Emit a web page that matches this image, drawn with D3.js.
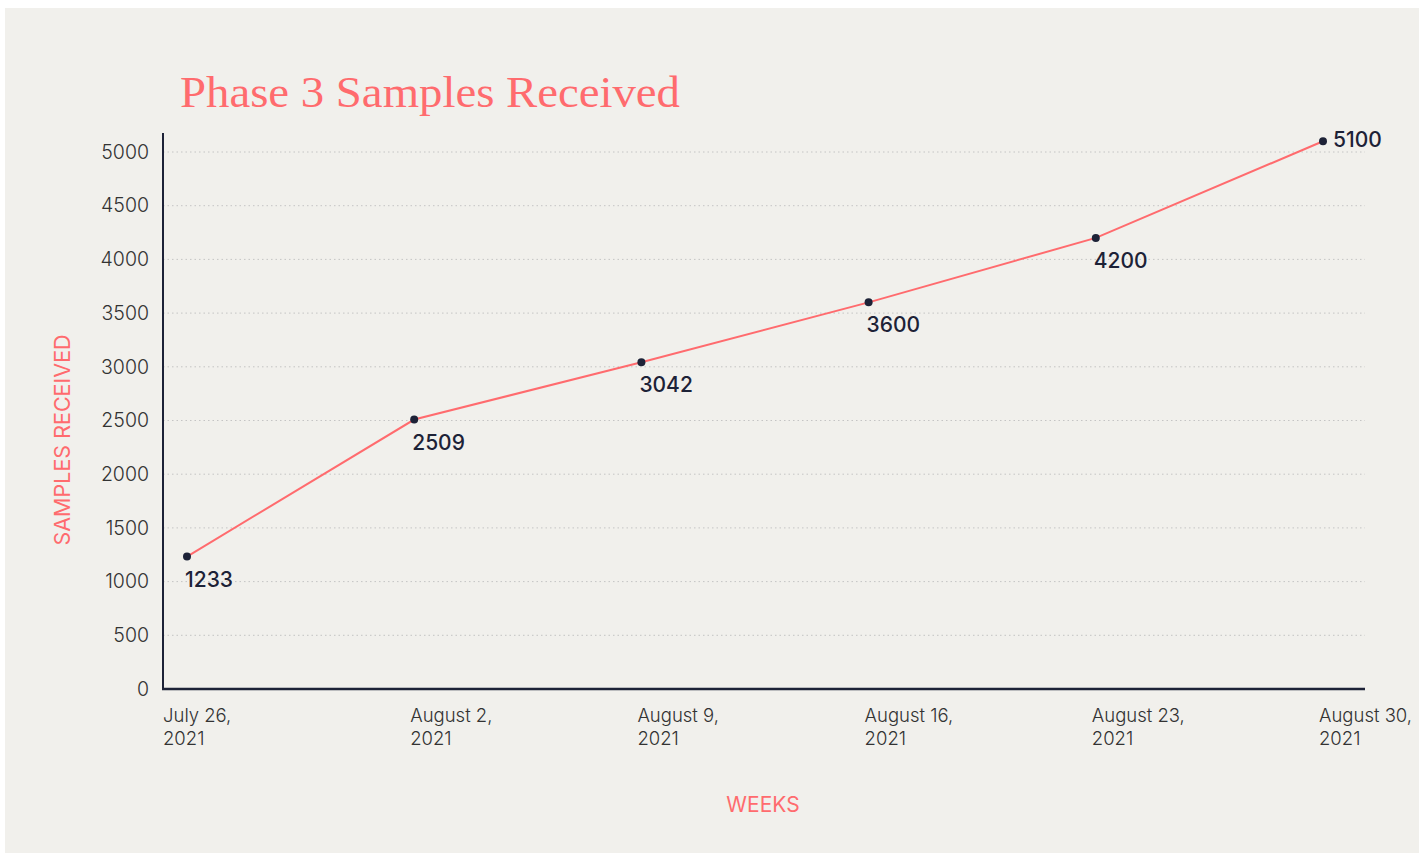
<!DOCTYPE html>
<html>
<head>
<meta charset="utf-8">
<script src="https://cdn.jsdelivr.net/npm/d3@7"></script>
<style>
  html, body { margin: 0; padding: 0; background: #ffffff; }
  svg { display: block; }
</style>
</head>
<body>
<div id="chart"></div>
<script>
const WIDTH = 1424;
const HEIGHT = 855;

// data
const weeks = ["2021-07-26", "2021-08-02", "2021-08-09", "2021-08-16", "2021-08-23", "2021-08-30"];
const samples = [1233, 2509, 3042, 3600, 4200, 5100];
const yTicks = [0, 500, 1000, 1500, 2000, 2500, 3000, 3500, 4000, 4500, 5000];

const parse = d3.timeParse("%Y-%m-%d");
const data = weeks.map((w, i) => ({ date: parse(w), value: samples[i] }));

const CORAL = "#ff6b6e";
const NAVY = "#1d2237";

const svg = d3.select("#chart").append("svg")
  .attr("width", WIDTH)
  .attr("height", HEIGHT);

// panel background
svg.append("rect")
  .attr("x", 5).attr("y", 8)
  .attr("width", 1414).attr("height", 845)
  .attr("fill", "#f1f0ec");

const axisLeft = 163, axisRight = 1365, axisBottom = 689, axisTop = 133;

const x = d3.scaleTime()
  .domain(d3.extent(data, d => d.date))
  .range([187, 1323]);

const y = d3.scaleLinear()
  .domain([0, 5000])
  .range([axisBottom, 152]);

// title
svg.append("text")
  .attr("x", 180).attr("y", 107)
  .attr("fill", CORAL)
  .style("font-family", "'Liberation Serif', serif")
  .style("font-size", "45px")
  .attr("textLength", 500)
  .attr("lengthAdjust", "spacingAndGlyphs")
  .text("Phase 3 Samples Received");

// grid lines
svg.append("g")
  .selectAll("line")
  .data(yTicks.filter(d => d > 0))
  .join("line")
  .attr("x1", axisLeft).attr("x2", axisRight)
  .attr("y1", d => y(d)).attr("y2", d => y(d))
  .attr("stroke", "#c4c4c4")
  .attr("stroke-width", 1)
  .attr("stroke-dasharray", "1.5,3");

// y axis
const yAxis = svg.append("g")
  .attr("transform", `translate(${axisLeft},0)`)
  .call(d3.axisLeft(y).tickValues(yTicks).tickFormat(d3.format("d")).tickSize(0).tickPadding(14));
yAxis.select(".domain").remove();
yAxis.selectAll("text")
  .attr("fill", "#333333")
  .style("font-family", "Inter, sans-serif")
  .style("font-size", "19.5px")
  .style("font-weight", 300);

svg.append("line")
  .attr("x1", axisLeft).attr("x2", axisLeft)
  .attr("y1", axisTop).attr("y2", axisBottom + 1)
  .attr("stroke", NAVY).attr("stroke-width", 2);

svg.append("line")
  .attr("x1", axisLeft - 1).attr("x2", axisRight)
  .attr("y1", axisBottom).attr("y2", axisBottom)
  .attr("stroke", NAVY).attr("stroke-width", 2.5);

// x tick labels (two lines)
const fmtDay = d3.timeFormat("%B %-d,");
const fmtYear = d3.timeFormat("%Y");
const xt = svg.append("g")
  .selectAll("text")
  .data(data)
  .join("text")
  .attr("x", (d, i) => i === 0 ? axisLeft : x(d.date) - 4)
  .attr("y", 722)
  .attr("fill", "#333333")
  .style("font-family", "Inter, sans-serif")
  .style("font-size", "18.5px")
  .style("font-weight", 300);
xt.append("tspan").text(d => fmtDay(d.date));
xt.append("tspan")
  .attr("x", (d, i) => i === 0 ? axisLeft : x(d.date) - 4)
  .attr("dy", 23)
  .text(d => fmtYear(d.date));

// axis titles
svg.append("text")
  .attr("transform", "translate(70,440) rotate(-90)")
  .attr("text-anchor", "middle")
  .attr("fill", CORAL)
  .style("font-family", "Inter, sans-serif")
  .style("font-size", "21.5px")
  .text("SAMPLES RECEIVED");

svg.append("text")
  .attr("x", 763).attr("y", 812)
  .attr("text-anchor", "middle")
  .attr("fill", CORAL)
  .style("font-family", "Inter, sans-serif")
  .style("font-size", "21px")
  .text("WEEKS");

// line
const line = d3.line()
  .x(d => x(d.date))
  .y(d => y(d.value));

svg.append("path")
  .datum(data)
  .attr("d", line)
  .attr("fill", "none")
  .attr("stroke", CORAL)
  .attr("stroke-width", 2);

// points
svg.append("g")
  .selectAll("circle")
  .data(data)
  .join("circle")
  .attr("cx", d => x(d.date))
  .attr("cy", d => y(d.value))
  .attr("r", 4)
  .attr("fill", NAVY);

// value labels
const last = data.length - 1;
svg.append("g")
  .selectAll("text")
  .data(data)
  .join("text")
  .attr("x", (d, i) => i === last ? x(d.date) + 10 : x(d.date) - 2)
  .attr("y", (d, i) => i === last ? y(d.value) + 6 : y(d.value) + 30)
  .attr("fill", NAVY)
  .style("font-family", "Inter, sans-serif")
  .style("font-size", "21px")
  .style("font-weight", 500)
  .text(d => d.value);
</script>
</body>
</html>
